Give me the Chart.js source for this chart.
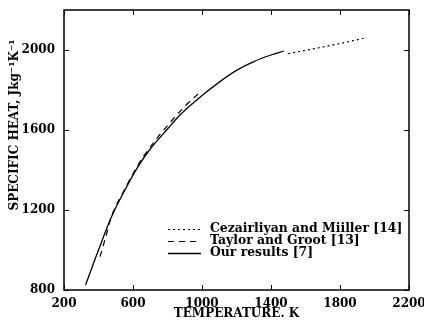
<!DOCTYPE html>
<html><head><meta charset="utf-8">
<script src="https://cdn.jsdelivr.net/npm/chart.js@4"></script>
<style>html,body{margin:0;padding:0;background:#fff}#c{display:block}</style>
</head><body>
<canvas id="c" width="424" height="321"></canvas>
<script>
// Data
const ourT  = [325, 400, 476, 550, 629, 700, 800, 872, 1000, 1104, 1200, 1300, 1400, 1475];
const ourCp = [825, 1000, 1167, 1295, 1417, 1505, 1605, 1675, 1772, 1842, 1898, 1942, 1975, 1995];
const taylorT  = [409, 440, 476, 550, 629, 700, 800, 900, 1000];
const taylorCp = [967, 1060, 1170, 1300, 1425, 1515, 1622, 1718, 1798];
const cezT  = [1500, 1600, 1700, 1800, 1955];
const cezCp = [1982, 1998, 2015, 2032, 2062];
const xTicks = [200, 600, 1000, 1400, 1800, 2200];
const yTicks = [800, 1200, 1600, 2000];
const legendLabels = ['Cezairliyan and Miiller [14]', 'Taylor and Groot [13]', 'Our results [7]'];

const pts = (xs, ys) => xs.map((x, i) => ({x, y: ys[i]}));
const FONT = 'DejaVu Serif';

const framePlugin = {
  id: 'frame',
  afterDraw(chart) {
    const {ctx, chartArea: a, scales: {x, y}} = chart;
    ctx.save();
    ctx.strokeStyle = '#000';
    ctx.lineWidth = 1.5;
    ctx.strokeRect(a.left, a.top, a.right - a.left, a.bottom - a.top);
    ctx.lineWidth = 1;
    const L = 5;
    ctx.beginPath();
    xTicks.forEach(v => {
      const p = Math.round(x.getPixelForValue(v)) + 0.5;
      ctx.moveTo(p, a.bottom); ctx.lineTo(p, a.bottom - L);
      ctx.moveTo(p, a.top); ctx.lineTo(p, a.top + L);
    });
    yTicks.forEach(v => {
      const p = Math.round(y.getPixelForValue(v)) + 0.5;
      ctx.moveTo(a.left, p); ctx.lineTo(a.left + L, p);
      ctx.moveTo(a.right, p); ctx.lineTo(a.right - L, p);
    });
    ctx.stroke();
    // y title
    ctx.fillStyle = '#000';
    ctx.translate(15, a.top + 115);
    ctx.rotate(-Math.PI / 2);
    ctx.textAlign = 'center';
    ctx.textBaseline = 'middle';
    ctx.font = 'bold 12px "' + FONT + '"';
    ctx.fillText('SPECIFIC HEAT, Jkg\u207B\u00B9K\u207B\u00B9', 0, 0);
    ctx.restore();
    // legend
    ctx.save();
    const ds = chart.data.datasets;
    const lx = a.left + 104, tx = a.left + 146;
    const rows = [a.top + 219, a.top + 231, a.top + 243];
    ctx.font = 'bold 12.4px "' + FONT + '"';
    ctx.textBaseline = 'middle';
    ctx.fillStyle = '#000';
    ds.forEach((d, i) => {
      ctx.strokeStyle = '#000';
      ctx.lineWidth = d.borderWidth;
      ctx.setLineDash(d.borderDash || []);
      ctx.beginPath();
      ctx.moveTo(lx, rows[i] + 0.5); ctx.lineTo(lx + 33, rows[i] + 0.5);
      ctx.stroke();
      ctx.fillText(d.label, tx, rows[i]);
    });
    ctx.restore();
  }
};

new Chart(document.getElementById('c'), {
  type: 'scatter',
  data: {
    datasets: [
      {label: legendLabels[0], data: pts(cezT, cezCp), showLine: true, borderColor: '#000', borderWidth: 1.2, borderDash: [2, 3], pointRadius: 0, tension: 0},
      {label: legendLabels[1], data: pts(taylorT, taylorCp), showLine: true, borderColor: '#000', borderWidth: 1.2, borderDash: [6, 5], pointRadius: 0, cubicInterpolationMode: 'monotone'},
      {label: legendLabels[2], data: pts(ourT, ourCp), showLine: true, borderColor: '#000', borderWidth: 1.3, pointRadius: 0, cubicInterpolationMode: 'monotone'}
    ]
  },
  options: {
    responsive: false,
    animation: false,
    layout: {padding: {top: 10, right: 15, left: 0, bottom: 0}},
    plugins: {legend: {display: false}, tooltip: {enabled: false}},
    scales: {
      x: {
        type: 'linear', min: 200, max: 2200,
        afterBuildTicks: s => { s.ticks = xTicks.map(v => ({value: v})); },
        afterFit: s => { s.height = 31; s.paddingLeft = 0; s.paddingRight = 0; },
        grid: {display: false, drawTicks: false},
        border: {display: false},
        ticks: {color: '#000', font: {family: FONT, size: 12, weight: 'bold'}, padding: 7, maxRotation: 0, autoSkip: false, callback: v => String(v)},
        title: {display: true, text: 'TEMPERATURE. K', color: '#000', font: {family: FONT, size: 12, weight: 'bold'}, padding: {top: 0, bottom: 0}}
      },
      y: {
        type: 'linear', min: 800, max: 2200,
        afterBuildTicks: s => { s.ticks = yTicks.map(v => ({value: v})); },
        afterFit: s => { s.width = 64; s.paddingTop = 0; s.paddingBottom = 0; },
        grid: {display: false, drawTicks: false},
        border: {display: false},
        ticks: {color: '#000', font: {family: FONT, size: 12, weight: 'bold'}, padding: 9, autoSkip: false, callback: v => String(v)}
      }
    }
  },
  plugins: [framePlugin]
});
</script>
</body></html>
